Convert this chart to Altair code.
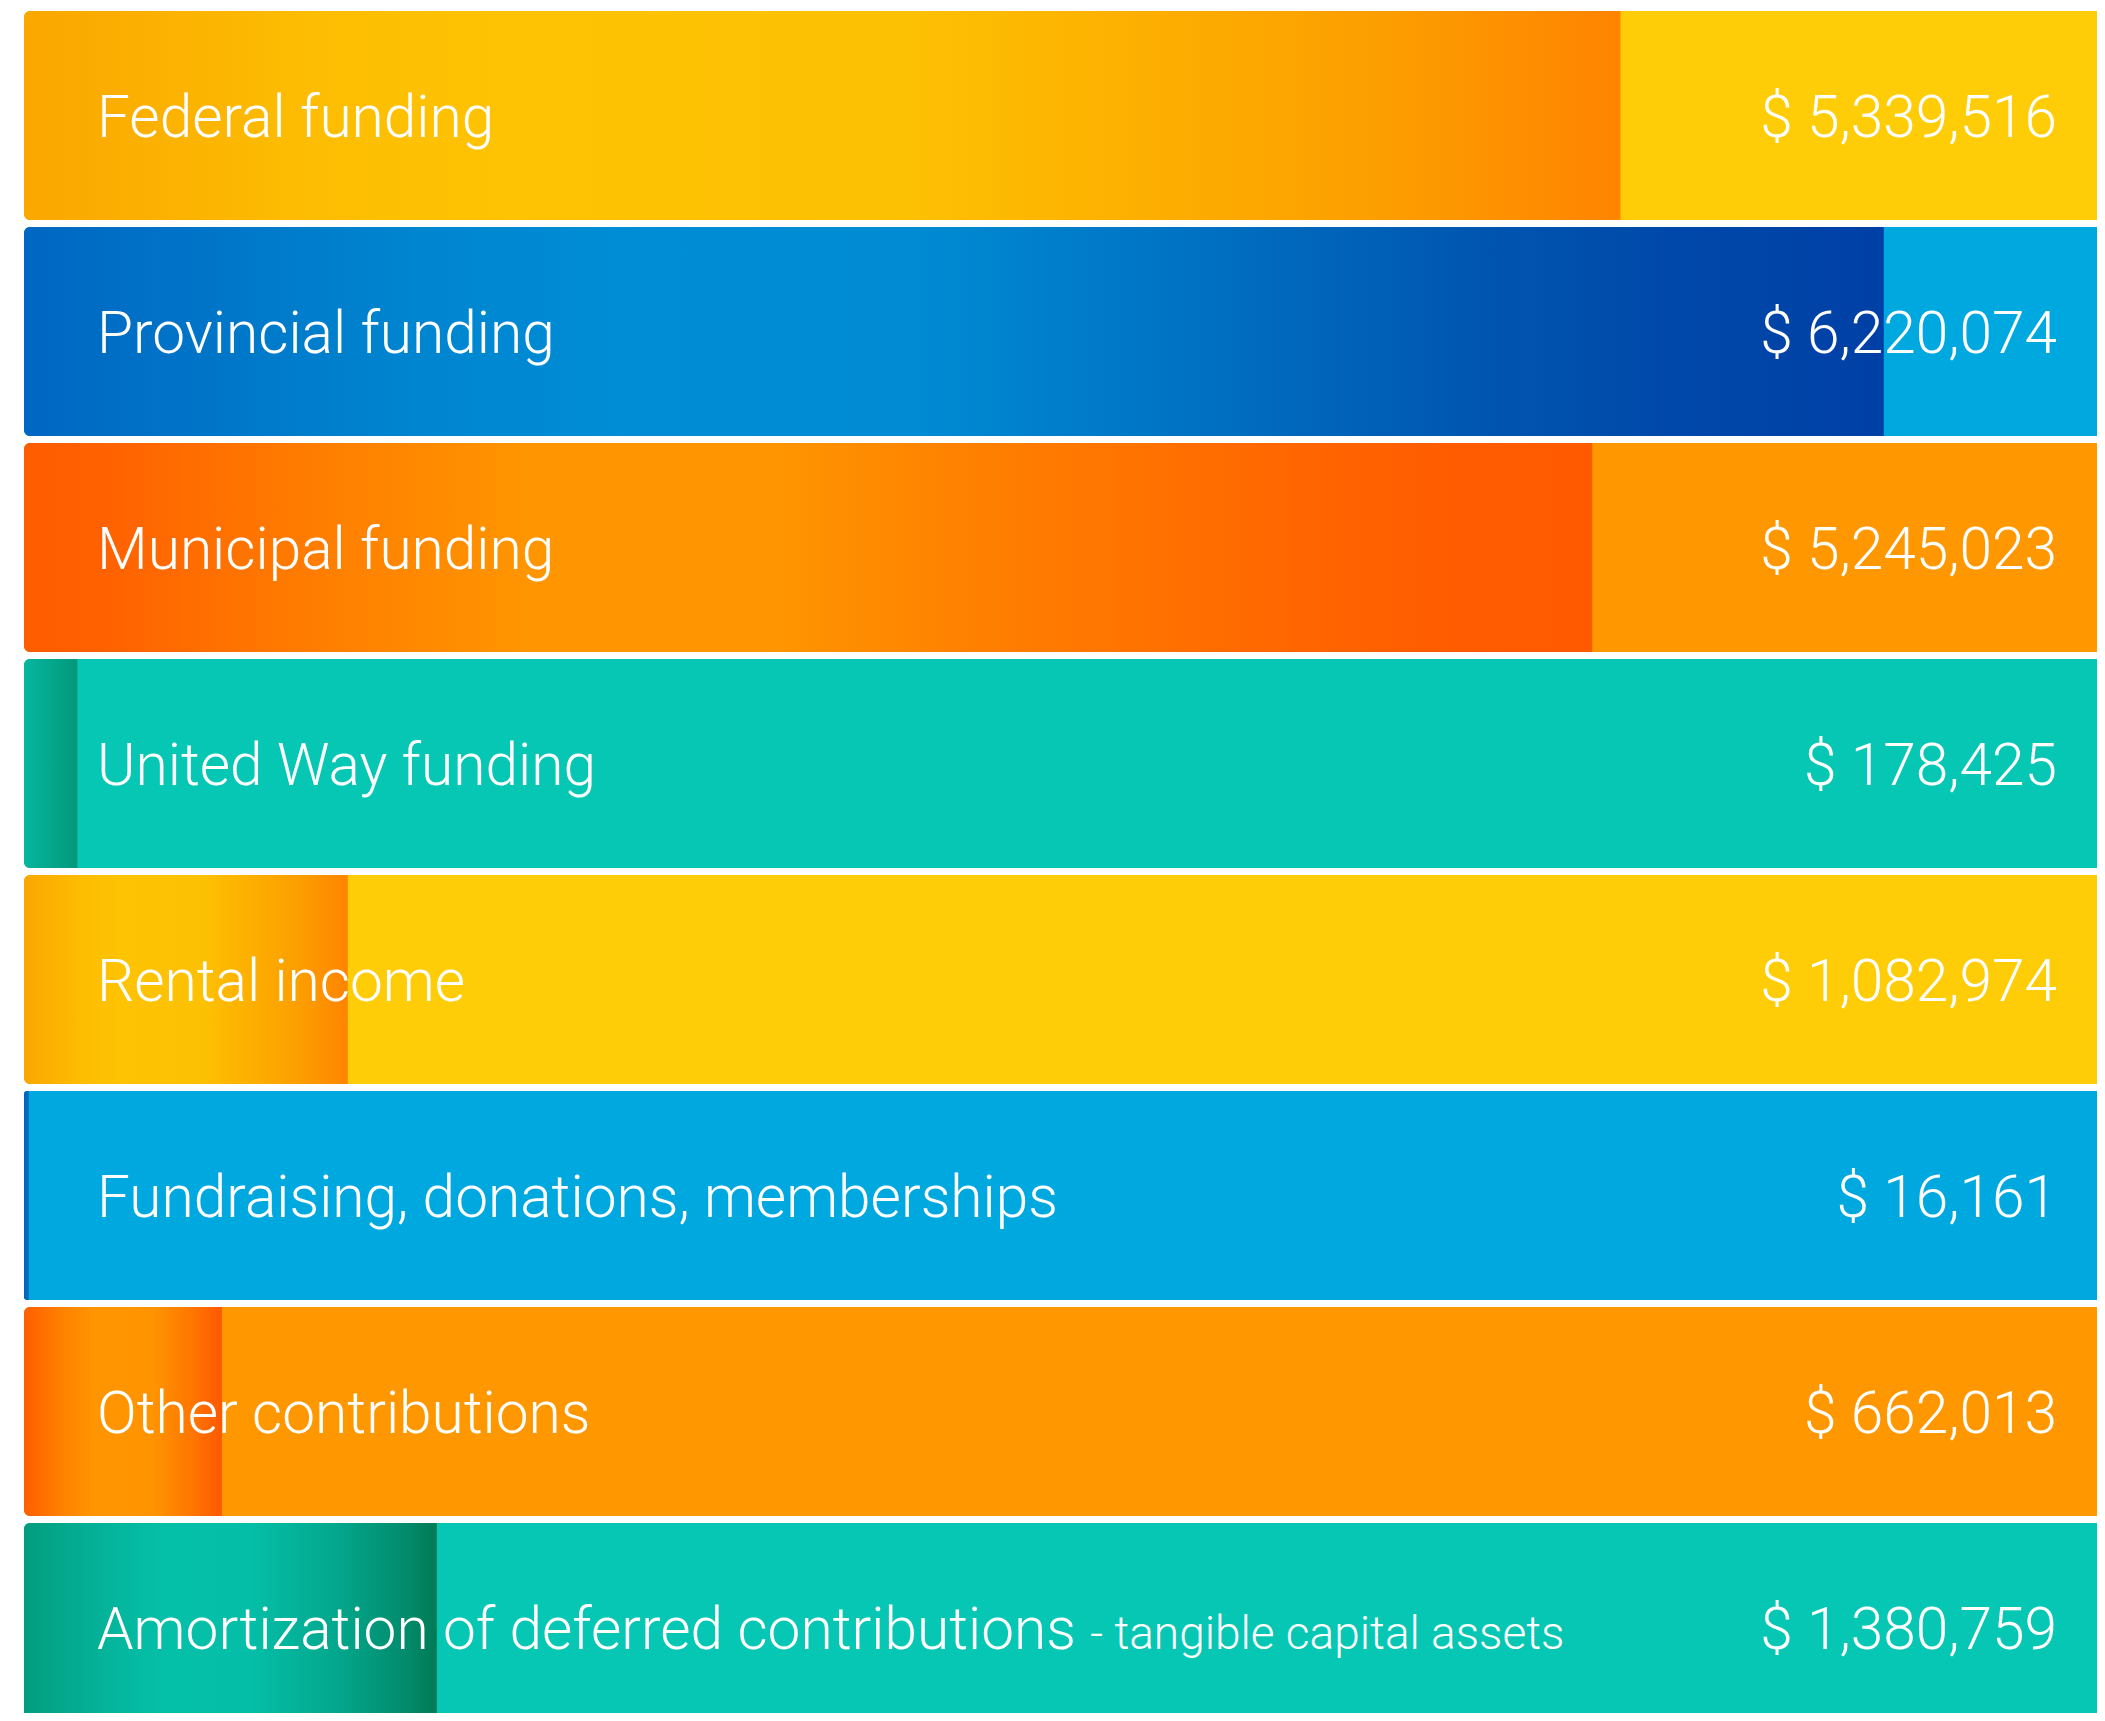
import altair as alt
import pandas as pd

# ---- data ----
categories = [
    "Federal funding",
    "Provincial funding",
    "Municipal funding",
    "United Way funding",
    "Rental income",
    "Fundraising, donations, memberships",
    "Other contributions",
    "Amortization of deferred contributions",
]
label_suffix = ["", "", "", "", "", "", "", "- tangible capital assets"]
amounts = [5339516, 6220074, 5245023, 178425, 1082974, 16161, 662013, 1380759]

# ---- styles ----
base_colors = ["#FECD07", "#00A8E0", "#FF9700", "#05C7B3",
               "#FECD07", "#00A8E0", "#FF9700", "#05C7B3"]
yellow_stops = [(0, "#FAA700"), (0.18, "#FDBD02"), (0.3, "#FEC303"), (0.55, "#FDC103"),
                (0.7, "#FDAF00"), (0.85, "#FC9E00"), (1, "#FF8400")]
blue_stops = [(0, "#0067C2"), (0.2, "#0084CF"), (0.32, "#008DD5"), (0.48, "#008BD3"),
              (0.62, "#0073C4"), (0.78, "#0056B0"), (0.9, "#0047A9"), (1, "#0040A6")]
orange_stops = [(0, "#FF5C00"), (0.05, "#FF6100"), (0.2, "#FF8000"), (0.32, "#FF9500"),
                (0.48, "#FF9500"), (0.6, "#FF8100"), (0.8, "#FF6700"), (0.92, "#FF5B00"),
                (1, "#FF5A00")]
other_stops = [(0, "#FF5E00"), (0.2, "#FF8200"), (0.35, "#FF9500"), (0.65, "#FF9400"),
               (0.85, "#FF7600"), (1, "#FF5800")]
uw_stops = [(0, "#05B79E"), (1, "#03977A")]
fund_stops = [(0, "#0066C0"), (1, "#006AC2")]
amort_stops = [(0, "#029D7E"), (0.2, "#04B49B"), (0.35, "#05C0A9"), (0.55, "#05BEA7"),
               (0.75, "#03A88E"), (0.92, "#028C6D"), (1, "#007A55")]
row_stops = [yellow_stops, blue_stops, orange_stops, uw_stops,
             yellow_stops, fund_stops, other_stops, amort_stops]

df = pd.DataFrame({
    "idx": list(range(len(categories))),
    "category": categories,
    "suffix": label_suffix,
    "amount": amounts,
    "base": base_colors,
})

W = 2073
H = 1705
PX_PER_M = 299.0
XMAX = W / PX_PER_M * 1e6
BAND = 0.9676
TEXT_POS = 0.584
FONT = "Roboto"
Y_MIN = -3 / 216
Y_MAX = (H - 3) / 216

x_scale = alt.Scale(domain=[0, XMAX], nice=False, zero=False)
y_scale = alt.Scale(domain=[Y_MIN, Y_MAX], reverse=True, nice=False, zero=False)

base = alt.Chart(df).transform_calculate(
    y0="datum.idx",
    y1=f"datum.idx + {BAND}",
    ty=f"datum.idx + {TEXT_POS}",
    start="0",
    end=str(XMAX),
    value_label="'$ ' + format(datum.amount, ',')",
)

X = lambda f: alt.X(f, scale=x_scale, axis=None)
Y = lambda f: alt.Y(f, scale=y_scale, axis=None)

bg = base.mark_bar(clip=True, cornerRadiusTopLeft=6, cornerRadiusBottomLeft=6).encode(
    x=X("start:Q"), x2="end:Q", y=Y("y0:Q"), y2="y1:Q",
    color=alt.Color("base:N", scale=None, legend=None),
)

grads = []
for i, stops in enumerate(row_stops):
    g = alt.Gradient(
        gradient="linear",
        stops=[alt.GradientStop(offset=o, color=c) for o, c in stops],
        x1=0, x2=1, y1=0, y2=0,
    )
    grads.append(
        base.transform_filter(f"datum.idx == {i}")
        .mark_bar(clip=True, fill=g, cornerRadiusTopLeft=6, cornerRadiusBottomLeft=6)
        .encode(x=X("start:Q"), x2="amount:Q", y=Y("y0:Q"), y2="y1:Q")
    )

labels = base.mark_text(align="left", baseline="alphabetic", font=FONT, fontWeight=300,
                        fontSize=58.6, color="white", dx=73).encode(
    x=X("start:Q"), y=Y("ty:Q"), text="category:N")

suffix = base.transform_filter("datum.suffix != ''").mark_text(
    align="left", baseline="alphabetic", font=FONT, fontWeight=300,
    fontSize=46, color="white", dx=1066).encode(
    x=X("start:Q"), y=Y("ty:Q"), text="suffix:N")

values = base.mark_text(align="right", baseline="alphabetic", font=FONT, fontWeight=300,
                        fontSize=58.6, color="white", dx=-40).encode(
    x=X("end:Q"), y=Y("ty:Q"), text="value_label:N")

chart = alt.layer(bg, *grads, labels, suffix, values).properties(
    width=W, height=H,
    padding={"left": 16, "top": 0, "right": 0, "bottom": 0},
    autosize="none",
    background="white",
).configure_view(stroke=None)

chart.save("out.html", embed_options={"renderer": "svg", "actions": False})
